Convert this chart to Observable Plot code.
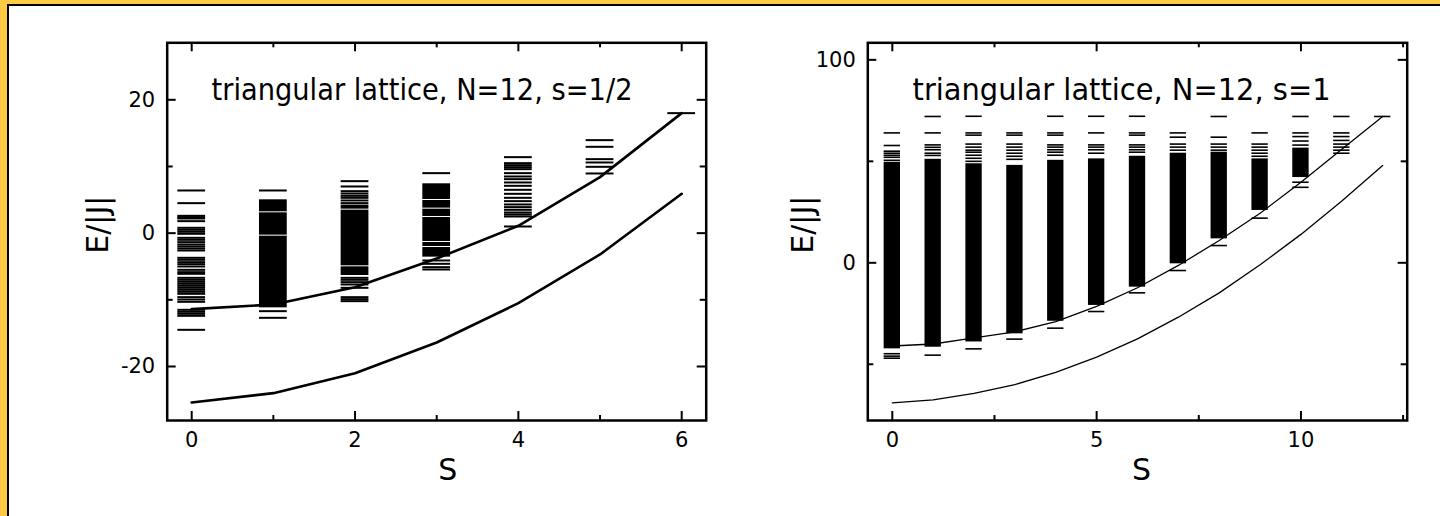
<!DOCTYPE html>
<html><head><meta charset="utf-8">
<script src="https://cdn.jsdelivr.net/npm/d3@7"></script>
<script src="https://cdn.jsdelivr.net/npm/@observablehq/plot@0.6"></script>
<style>
html,body{margin:0;padding:0;width:1440px;height:516px;overflow:hidden;background:#FFC845;}
#frame{position:absolute;left:7px;top:4px;width:1440px;height:520px;background:#fff;border-left:2px solid #000;border-top:2px solid #000;}
#left,#right{position:absolute;top:6px;}
#left{left:9px} #right{left:720px}
</style></head><body><div id="frame"></div><div id="left"></div><div id="right"></div>
<script>
// ---------- panel 1: s = 1/2 ----------
const titleHalf = "triangular lattice, N=12, s=1/2";
const S_half = [0, 1, 2, 3, 4, 5, 6];
const upperHalf = [-11.4, -10.7, -8.1, -3.8, 1.1, 8.4, 18.0];
const lowerHalf = [-25.4, -24.0, -21.0, -16.4, -10.5, -3.2, 5.9];
const levelsHalf = [
  [6.4, 4.5, 2.6, 2.4, 2.2, 1.8, 0.8, 0.5, 0.2, -0.1, -0.7, -1.0, -1.35, -1.7, -2.0, -2.3, -2.6, -3.7, -4.0, -4.35, -4.65, -5.0, -5.5, -5.85, -6.1, -6.7, -7.0, -7.3, -7.6, -7.9, -8.2, -8.5, -8.8, -9.1, -9.6, -9.95, -10.3, -11.5, -11.8, -12.1, -12.4, -14.5],
  [6.4, -11.7, -12.7],
  [7.8, 7.0, 6.3, 5.95, 5.6, 5.3, 4.9, 4.5, -6.7, -7.0, -7.35, -7.7, -8.2, -9.6, -9.9, -10.2],
  [9.0, -4.1, -4.6, -5.1, -5.45],
  [11.4, 10.5, 10.2, 9.9, 9.6, 9.0, 8.5, 8.1, 7.6, 7.1, 6.5, 5.9, 5.3, 4.8, 4.3, 3.9, 3.5, 3.1, 2.8, 2.5, 1.0],
  [13.95, 12.95, 11.1, 10.6, 9.95, 8.95],
  [18.0]
];
// dense blocks of levels: [S, lo, hi]
const bandsHalf = [
  [1, 3.2, 5.0], [1, -0.3, 3.05], [1, -11.2, -0.45],
  [2, 3.6, 4.2], [2, -4.9, 3.45], [2, -6.35, -5.05],
  [3, 5.05, 7.4], [3, 3.75, 4.9], [3, 2.5, 3.6], [3, -1.25, 2.35], [3, -2.0, -1.4], [3, -3.6, -2.15]
];
const xMajorHalf = [0, 2, 4, 6], xMinorHalf = [1, 3, 5];
const xLabelsHalf = ["0", "2", "4", "6"];
const yMajorHalf = [-20, 0, 20], yMinorHalf = [-10, 10];
const yLabelsHalf = ["-20", "0", "20"];

// ---------- panel 2: s = 1 ----------
const titleOne = "triangular lattice, N=12, s=1";
const S_one = [0, 1, 2, 3, 4, 5, 6, 7, 8, 9, 10, 11, 12];
const upperOne = [-41, -40, -37, -34, -29, -21.5, -12.3, -1.3, 11, 24.4, 39.7, 56, 72.1];
const lowerOne = [-69, -67.5, -64.3, -60, -54, -46.5, -37.5, -26.8, -14.8, -1, 14, 30.5, 48];
const levelsOne = [
  [64.0, 57.8, 55.0, 54.0, 53.0, 52.0, 50.5, -44.8, -46.0, -47.0],
  [72.1, 64.0, 58.1, 56.9, 55.7, 54.0, 52.9, -45.5],
  [72.2, 64.0, 62.9, 58.5, 57.0, 55.5, 54.5, 53.0, 51.5, 50.0, -42.4],
  [64.0, 62.9, 58.5, 57.0, 55.5, 54.0, 52.5, 51.0, -37.6],
  [72.2, 64.0, 62.9, 58.1, 57.0, 55.7, 54.5, 53.0, -32.2],
  [72.2, 64.0, 58.1, 57.0, 55.7, 54.0, -24.0],
  [72.2, 64.0, 62.9, 58.1, 57.0, 55.7, 54.5, -14.8],
  [64.0, 61.9, 58.5, 57.0, 55.5, -3.8],
  [72.1, 61.9, 58.5, 57.0, 55.5, 8.5],
  [64.0, 58.5, 57.0, 55.5, 54.0, 52.5, 22.0],
  [72.1, 64.0, 62.2, 60.0, 58.0, 39.7, 37.2],
  [72.1, 64.0, 62.2, 60.3, 58.5, 57.0, 55.5, 54.0],
  [72.1]
];
const bandsOne = [[0, -42.4, 49.5], [1, -41.6, 51.0], [2, -39.0, 48.8], [3, -35.0, 48.0], [4, -28.8, 50.5], [5, -21.0, 51.2], [6, -12.0, 52.5], [7, -0.5, 54.0], [8, 11.8, 54.5], [9, 25.8, 51.2], [10, 42.0, 56.5]];
const xMajorOne = [0, 5, 10], xMinorOne = [2.5, 7.5, 12.5];
const xLabelsOne = ["0", "5", "10"];
const yMajorOne = [0, 100], yMinorOne = [-50, 50];
const yLabelsOne = ["0", "100"];

const axisLabelX = "S";
const axisLabelY = "E/|J|";

const FONT = "DejaVu Sans";

function panel(cfg) {
  const {width, height, mL, mR, mT, mB, xDom, yDom, S, upper, lower, levels, bands, half, lw, tw,
         xMaj, xMin, xLab, yMaj, yMin, yLab, title, tx, ty, tLen, sDx, eDx} = cfg;
  const fw = width - mL - mR, fh = height - mT - mB;
  const lev = levels.flatMap((arr, i) => arr.map(E => ({S: S[i], E})));
  const bnd = bands.map(([s, lo, hi]) => ({S: s, lo, hi}));
  const svg = Plot.plot({
    width, height, marginLeft: mL, marginRight: mR, marginTop: mT, marginBottom: mB,
    x: {domain: xDom}, y: {domain: yDom},
    style: {background: "transparent", fontFamily: FONT, fontSize: "21px", color: "black", overflow: "visible"},
    marks: [
      Plot.rect(bnd, {x1: d => d.S - half, x2: d => d.S + half, y1: "lo", y2: "hi", fill: "black"}),
      Plot.ruleY(lev, {y: "E", x1: d => d.S - half, x2: d => d.S + half, stroke: "black", strokeWidth: tw}),
      Plot.line(upper, {x: (d, i) => S[i], y: d => d, stroke: "black", strokeWidth: lw}),
      Plot.line(lower, {x: (d, i) => S[i], y: d => d, stroke: "black", strokeWidth: lw}),
      // inward ticks, four sides
      Plot.ruleX(xMaj, {insetTop: fh - 9, stroke: "black", strokeWidth: 2}),
      Plot.ruleX(xMaj, {insetBottom: fh - 9, stroke: "black", strokeWidth: 2}),
      Plot.ruleX(xMin, {insetTop: fh - 5, stroke: "black", strokeWidth: 2}),
      Plot.ruleX(xMin, {insetBottom: fh - 5, stroke: "black", strokeWidth: 2}),
      Plot.ruleY(yMaj, {insetRight: fw - 9, stroke: "black", strokeWidth: 2}),
      Plot.ruleY(yMaj, {insetLeft: fw - 9, stroke: "black", strokeWidth: 2}),
      Plot.ruleY(yMin, {insetRight: fw - 6, stroke: "black", strokeWidth: 2}),
      Plot.ruleY(yMin, {insetLeft: fw - 6, stroke: "black", strokeWidth: 2}),
      Plot.axisX(xMaj, {anchor: "bottom", tickSize: 0, tickPadding: 12, fontSize: 21, label: null,
                        tickFormat: (d, i) => xLab[i], fontFamily: FONT}),
      Plot.axisY(yMaj, {anchor: "left", tickSize: 0, tickPadding: 12, fontSize: 21, label: null,
                        tickFormat: (d, i) => yLab[i], fontFamily: FONT}),
      Plot.frame({stroke: "black", strokeWidth: 2.5}),
      Plot.text([title], {x: tx, y: ty, text: d => d, textAnchor: "middle", lineAnchor: "bottom",
                          fontSize: 30, fontFamily: FONT}),
      Plot.text([axisLabelX], {frameAnchor: "bottom", text: d => d, dy: 50, dx: sDx, lineAnchor: "middle",
                               textAnchor: "middle", fontSize: 30, fontFamily: FONT}),
      Plot.text([axisLabelY], {frameAnchor: "left", text: d => d, dx: eDx, dy: -7, rotate: -90,
                               textAnchor: "middle", lineAnchor: "middle", fontSize: 30, fontFamily: FONT})
    ]
  });
  svg.querySelectorAll("text").forEach(t => {
    if (t.textContent === title) {
      t.setAttribute("textLength", tLen);
      t.setAttribute("lengthAdjust", "spacingAndGlyphs");
    }
  });
  return svg;
}

document.getElementById("left").appendChild(panel({
  width: 711, height: 510, mL: 157.7, mR: 14.3, mT: 36.3, mB: 96,
  xDom: [-0.3, 6.3], yDom: [-28.1, 28.55],
  S: S_half, upper: upperHalf, lower: lowerHalf, levels: levelsHalf, bands: bandsHalf,
  half: 0.17, lw: 2.6, tw: 2,
  xMaj: xMajorHalf, xMin: xMinorHalf, xLab: xLabelsHalf,
  yMaj: yMajorHalf, yMin: yMinorHalf, yLab: yLabelsHalf,
  title: titleHalf, tx: 2.82, ty: 20, tLen: 421, sDx: 11, eDx: -69
}));
document.getElementById("right").appendChild(panel({
  width: 720, height: 510, mL: 147.3, mR: 33.3, mT: 36.3, mB: 96,
  xDom: [-0.6, 12.6], yDom: [-77.7, 108.4],
  S: S_one, upper: upperOne, lower: lowerOne, levels: levelsOne, bands: bandsOne,
  half: 0.2, lw: 1.3, tw: 1.6,
  xMaj: xMajorOne, xMin: xMinorOne, xLab: xLabelsOne,
  yMaj: yMajorOne, yMin: yMinorOne, yLab: yLabelsOne,
  title: titleOne, tx: 5.61, ty: 80, tLen: 418, sDx: 4, eDx: -64.5
}));
</script></body></html>
